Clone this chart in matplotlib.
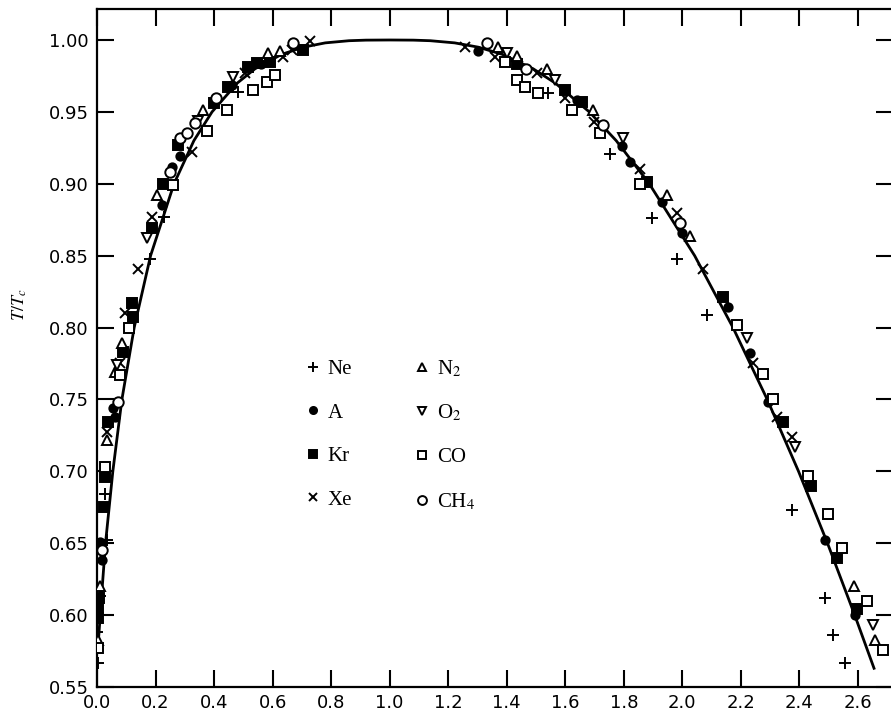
import numpy as np
import matplotlib.pyplot as plt
from matplotlib.lines import Line2D

plt.rcParams['mathtext.fontset'] = 'stix'

# coexistence curve (rho/rho_c, T/T_c)
curve_rho = [0.004, 0.011, 0.018, 0.029, 0.054, 0.085, 0.127, 0.183, 0.263, 0.331, 0.393,
             0.479, 0.540, 0.631, 0.705, 0.780, 0.861, 0.919, 1.000, 1.081, 1.139, 1.222,
             1.303, 1.385, 1.490, 1.566, 1.682, 1.774, 1.887, 2.042, 2.173, 2.290, 2.397,
             2.496, 2.589, 2.655]
curve_T = [0.58, 0.60, 0.62, 0.65, 0.70, 0.75, 0.80, 0.85, 0.90, 0.93, 0.95,
           0.97, 0.98, 0.99, 0.995, 0.998, 0.9995, 0.9999, 1.0, 0.9999, 0.9995, 0.998,
           0.995, 0.99, 0.98, 0.97, 0.95, 0.93, 0.90, 0.85, 0.80, 0.75, 0.70,
           0.65, 0.60, 0.563]

ne_rho = [0.003, 0.0, 0.010, 0.034, 0.027, 0.181, 0.229, 0.482, 1.542, 1.754, 1.897, 1.983,
          2.085, 2.376, 2.489, 2.516, 2.557]
ne_T = [0.567, 0.588, 0.613, 0.652, 0.684, 0.848, 0.877, 0.964, 0.963, 0.921, 0.876, 0.848,
        0.809, 0.673, 0.612, 0.586, 0.567]

a_rho = [0.010, 0.017, 0.055, 0.062, 0.222, 0.256, 0.284, 0.462, 0.560, 1.303, 1.641, 1.795,
         1.822, 1.932, 2.000, 2.157, 2.232, 2.294, 2.489, 2.591]
a_T = [0.651, 0.638, 0.744, 0.738, 0.885, 0.912, 0.919, 0.969, 0.983, 0.992, 0.958, 0.926,
       0.915, 0.887, 0.866, 0.814, 0.782, 0.748, 0.652, 0.600]

kr_rho = [0.005, 0.005, 0.006, 0.024, 0.027, 0.038, 0.089, 0.120, 0.123, 0.188, 0.226, 0.277,
          0.400, 0.448, 0.516, 0.547, 0.591, 0.704, 1.436, 1.600, 1.658, 1.880, 2.140, 2.345,
          2.438, 2.530, 2.598]
kr_T = [0.598, 0.605, 0.612, 0.675, 0.696, 0.734, 0.783, 0.817, 0.807, 0.869, 0.900, 0.927,
        0.956, 0.967, 0.981, 0.984, 0.985, 0.993, 0.983, 0.965, 0.957, 0.901, 0.821, 0.734,
        0.690, 0.640, 0.604]

xe_rho = [0.034, 0.079, 0.096, 0.140, 0.188, 0.325, 0.506, 0.636, 0.667, 0.728, 1.258, 1.361,
          1.504, 1.600, 1.699, 1.856, 1.983, 2.072, 2.243, 2.325, 2.376]
xe_T = [0.727, 0.775, 0.810, 0.841, 0.877, 0.922, 0.977, 0.988, 0.993, 0.999, 0.995, 0.988,
        0.977, 0.960, 0.943, 0.910, 0.880, 0.841, 0.775, 0.738, 0.724]

n2_rho = [0.003, 0.010, 0.034, 0.062, 0.085, 0.205, 0.362, 0.585, 0.626, 1.371, 1.436, 1.538,
          1.696, 1.949, 2.027, 2.585, 2.660]
n2_T = [0.583, 0.620, 0.722, 0.769, 0.789, 0.892, 0.951, 0.991, 0.992, 0.995, 0.989, 0.980,
        0.951, 0.892, 0.864, 0.620, 0.583]

o2_rho = [0.068, 0.171, 0.345, 0.465, 1.402, 1.566, 1.798, 2.222, 2.386, 2.653]
o2_T = [0.774, 0.862, 0.944, 0.974, 0.991, 0.972, 0.932, 0.793, 0.717, 0.593]

co_rho = [0.003, 0.027, 0.079, 0.109, 0.260, 0.376, 0.444, 0.533, 0.581, 0.609, 1.395, 1.436,
          1.463, 1.508, 1.624, 1.720, 1.856, 2.188, 2.277, 2.311, 2.431, 2.499, 2.547, 2.632,
          2.687]
co_T = [0.577, 0.703, 0.767, 0.800, 0.899, 0.937, 0.951, 0.965, 0.971, 0.976, 0.985, 0.972,
        0.967, 0.963, 0.951, 0.935, 0.900, 0.802, 0.768, 0.750, 0.697, 0.670, 0.647, 0.610,
        0.576]

ch4_rho = [0.017, 0.072, 0.250, 0.284, 0.308, 0.335, 0.407, 0.670, 1.333, 1.467, 1.730, 1.993]
ch4_T = [0.645, 0.748, 0.908, 0.932, 0.935, 0.942, 0.960, 0.998, 0.998, 0.980, 0.941, 0.873]

xticks = np.arange(0.0, 2.61, 0.2)
yticks = np.arange(0.55, 1.001, 0.05)

fig = plt.figure(figsize=(8.91, 7.21), dpi=100)
ax = fig.add_axes([0.1089, 0.0472, 0.8934, 0.9404])

ax.plot(curve_rho, curve_T, color='black', lw=2.0, zorder=1)

# (label, x, y, marker, filled, size)
series = [
    ('Ne', ne_rho, ne_T, '+', True, 9),
    ('A', a_rho, a_T, 'o', True, 6),
    ('Kr', kr_rho, kr_T, 's', True, 6.5),
    ('Xe', xe_rho, xe_T, 'x', True, 7),
    ('N$_2$', n2_rho, n2_T, '^', False, 7.5),
    ('O$_2$', o2_rho, o2_T, 'v', False, 7.5),
    ('CO', co_rho, co_T, 's', False, 7),
    ('CH$_4$', ch4_rho, ch4_T, 'o', False, 7.5),
]
handles = []
for name, xs, ys, m, filled, ms in series:
    face = 'black' if filled else 'white'
    ax.plot(xs, ys, ls='none', marker=m, ms=ms, mec='black', mfc=face, mew=1.4, zorder=3)
    handles.append(Line2D([], [], ls='none', marker=m, ms=ms * 0.85, mec='black',
                          mfc=face, mew=1.4, label=name))

ax.legend(handles=handles, ncol=2, frameon=False, loc='upper left',
          bbox_to_anchor=(0.248, 0.50), borderpad=0, handlelength=0.8,
          handletextpad=0.3, columnspacing=2.95, labelspacing=1.15,
          prop={'family': 'Liberation Serif', 'size': 15})

ax.set_xlim(0.0, 2.72)
ax.set_ylim(0.55, 1.0216)
ax.set_xticks(xticks)
ax.set_yticks(yticks)
ax.set_xticklabels(['%.1f' % v for v in xticks])
ax.set_yticklabels(['%.2f' % v for v in yticks])
ax.tick_params(direction='in', length=12, width=1.5, labelsize=13,
               top=True, right=True, pad=6)
ax.tick_params(axis='x', pad=5)
for s in ax.spines.values():
    s.set_linewidth(1.6)

fig.text(20 / 891, 1 - 305 / 721, r'$T/T_c$', rotation=90, ha='center', va='center',
         fontsize=13)

fig.savefig('out.png', dpi=100)
